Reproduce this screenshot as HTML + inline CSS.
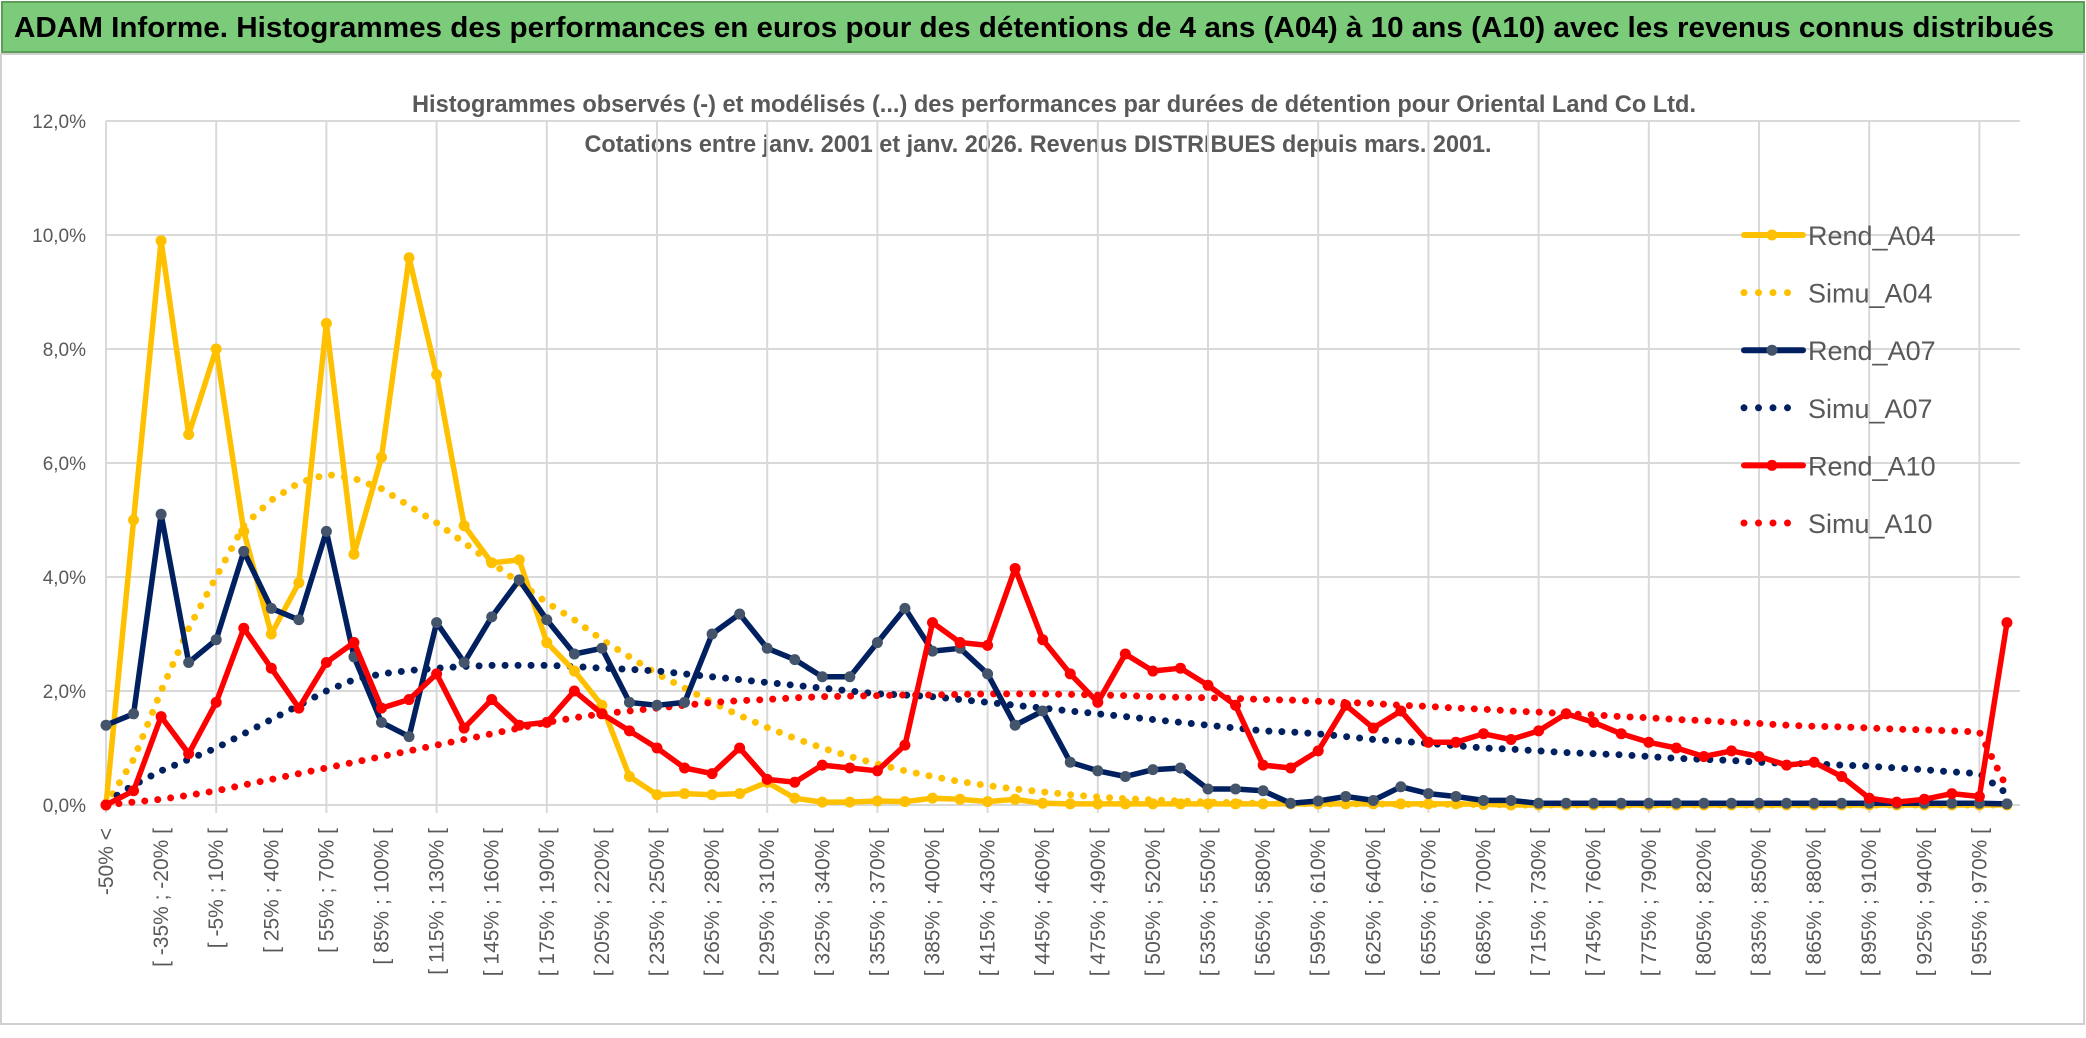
<!DOCTYPE html>
<html><head><meta charset="utf-8"><style>
body{margin:0;width:2086px;height:1033px;overflow:hidden;background:#fff;font-family:"Liberation Sans",sans-serif}
</style></head><body>
<svg id="chart" width="2086" height="1033" xmlns="http://www.w3.org/2000/svg">
<rect x="1" y="54" width="2083" height="970" fill="#fff" stroke="#d0d0d0" stroke-width="2"/>
<rect x="2" y="2" width="2082" height="50" fill="#7ccb7a" stroke="#5a9e58" stroke-width="2"/>
<text x="14" y="37" font-size="29" font-weight="bold" fill="#000" textLength="2040" lengthAdjust="spacingAndGlyphs">ADAM Informe. Histogrammes des performances en euros pour des détentions de 4 ans (A04) à 10 ans (A10) avec les revenus connus distribués</text>
<text x="1054" y="112" font-size="24" font-weight="bold" fill="#595959" text-anchor="middle" textLength="1284" lengthAdjust="spacingAndGlyphs">Histogrammes observés (-) et modélisés (...) des performances par durées de détention pour Oriental Land Co Ltd.</text>
<text x="1038" y="152" font-size="24" font-weight="bold" fill="#595959" text-anchor="middle" textLength="907" lengthAdjust="spacingAndGlyphs">Cotations entre janv. 2001 et janv. 2026. Revenus DISTRIBUES depuis mars. 2001.</text>
<g id="grid"></g><g id="axes"></g><g id="series"></g><g id="legend"></g>
</svg>
<script>
const categories=[];
categories.push("-50% <");
for(let b=-50;b<985;b+=15){categories.push("[ "+b+"% ; "+(b+15)+"% [");}
const yTicks=[0,2,4,6,8,10,12];
const rendA04=[0,5.0,9.9,6.5,8.0,4.8,3.0,3.9,8.45,4.4,6.1,9.6,7.55,4.9,4.25,4.3,2.85,2.35,1.75,0.5,0.18,0.2,0.18,0.2,0.4,0.12,0.05,0.05,0.07,0.06,0.12,0.1,0.06,0.1,0.03,0.02,0.02,0.02,0.02,0.02,0.02,0.02,0.02,0.02,0.02,0.02,0.02,0.02,0.02,0.02,0.01,0,0,0,0,0,0,0,0,0,0,0,0,0,0,0,0,0,0,0];
const simuA04=[0,0.8,2.0,3.1,4.0,4.9,5.35,5.65,5.8,5.73,5.55,5.25,4.95,4.6,4.25,3.9,3.55,3.25,2.9,2.6,2.3,2.05,1.8,1.57,1.36,1.17,1.0,0.85,0.72,0.6,0.5,0.41,0.34,0.28,0.23,0.18,0.14,0.11,0.09,0.07,0.05,0.04,0.03,0.03,0.02,0.02,0.02,0.01,0.01,0.01,0.01,0,0,0,0,0,0,0,0,0,0,0,0,0,0,0,0,0,0,0];
const rendA07=[1.4,1.6,5.1,2.5,2.9,4.45,3.45,3.25,4.8,2.6,1.45,1.2,3.2,2.5,3.3,3.95,3.25,2.65,2.75,1.8,1.75,1.8,3.0,3.35,2.75,2.55,2.25,2.25,2.85,3.45,2.7,2.75,2.3,1.4,1.65,0.75,0.6,0.5,0.62,0.65,0.28,0.28,0.25,0.03,0.07,0.15,0.08,0.32,0.2,0.15,0.08,0.08,0.03,0.03,0.03,0.03,0.03,0.03,0.03,0.03,0.03,0.03,0.03,0.03,0.03,0.03,0.03,0.03,0.03,0.02];
const simuA07=[0.05,0.35,0.6,0.8,1.0,1.25,1.5,1.75,2.0,2.2,2.3,2.36,2.4,2.43,2.45,2.45,2.45,2.43,2.4,2.38,2.35,2.3,2.25,2.2,2.15,2.1,2.05,2.0,1.95,1.93,1.9,1.85,1.8,1.75,1.7,1.65,1.6,1.55,1.5,1.45,1.4,1.35,1.3,1.28,1.25,1.2,1.15,1.12,1.08,1.04,1.0,0.98,0.95,0.92,0.9,0.88,0.85,0.82,0.8,0.78,0.75,0.73,0.72,0.7,0.68,0.65,0.62,0.58,0.55,0.2];
const rendA10=[0,0.25,1.55,0.9,1.8,3.1,2.4,1.7,2.5,2.85,1.7,1.85,2.3,1.35,1.85,1.4,1.45,2.0,1.6,1.3,1.0,0.65,0.55,1.0,0.45,0.4,0.7,0.65,0.6,1.05,3.2,2.85,2.8,4.15,2.9,2.3,1.8,2.65,2.35,2.4,2.1,1.75,0.7,0.65,0.95,1.75,1.35,1.65,1.1,1.1,1.25,1.15,1.3,1.6,1.45,1.25,1.1,1.0,0.85,0.95,0.85,0.7,0.75,0.5,0.12,0.05,0.1,0.2,0.15,3.2];
const simuA10=[0,0.05,0.1,0.17,0.25,0.35,0.45,0.55,0.65,0.75,0.85,0.95,1.05,1.15,1.25,1.35,1.45,1.53,1.6,1.65,1.7,1.75,1.8,1.83,1.85,1.88,1.9,1.91,1.92,1.93,1.93,1.94,1.95,1.95,1.95,1.94,1.93,1.92,1.9,1.89,1.88,1.87,1.85,1.84,1.82,1.8,1.78,1.75,1.73,1.7,1.68,1.65,1.63,1.6,1.58,1.55,1.53,1.5,1.48,1.45,1.43,1.4,1.38,1.37,1.35,1.33,1.32,1.3,1.28,0.3];
const NS="http://www.w3.org/2000/svg";
const X0=106,DX=27.55,Y0=805,PY=57,XR=2020;
function xs(i){return X0+DX*i;}
function ys(v){return Y0-PY*v;}
function mk(tag,attrs,parent){const e=document.createElementNS(NS,tag);for(const k in attrs)e.setAttribute(k,attrs[k]);parent.appendChild(e);return e;}
const grid=document.getElementById('grid'),axes=document.getElementById('axes'),ser=document.getElementById('series'),leg=document.getElementById('legend');
yTicks.forEach(t=>{
 const l=mk('line',{x1:X0,x2:XR,y1:ys(t),y2:ys(t),stroke:'#d9d9d9','stroke-width':2},grid);
 
 
 const tx=mk('text',{x:86,y:ys(t)+7,'font-size':19,fill:'#595959','text-anchor':'end'},axes);
 tx.textContent=t.toFixed(1).replace('.',',')+'%';
 
 
});
categories.forEach((c,i)=>{
 if(i%4===0){const l=mk('line',{x1:xs(i),x2:xs(i),y1:ys(12),y2:Y0+8,stroke:'#d9d9d9','stroke-width':2},grid);
  
  }
 if(i%2===0){const tx=mk('text',{x:0,y:0,'font-size':21,fill:'#595959','text-anchor':'end',transform:'translate('+(xs(i)+7)+',828) rotate(-90)'},axes);
  tx.textContent=c;
  
  }
});
function pts(arr){return arr.map((v,i)=>xs(i).toFixed(1)+','+ys(v).toFixed(1)).join(' ');}
function dotted(arr,color,name){
 const p=mk('polyline',{points:pts(arr),fill:'none',stroke:color,'stroke-width':7,'stroke-linecap':'round','stroke-dasharray':'0 13'},ser);
 
 
}
function solid(arr,color,mcolor,name){
 const g=mk('g',{},ser);
 
 
 mk('polyline',{points:pts(arr),fill:'none',stroke:color,'stroke-width':5.5,'stroke-linejoin':'round'},g);
 arr.forEach((v,i)=>{const c=mk('circle',{cx:xs(i),cy:ys(v),r:5.5,fill:mcolor},g);
  
  });
}
dotted(simuA04,'#FFC000','simu-a04-line');
dotted(simuA07,'#002060','simu-a07-line');
dotted(simuA10,'#FF0000','simu-a10-line');
solid(rendA04,'#FFC000','#FFC000','rend-a04-line');
solid(rendA07,'#002060','#44546A','rend-a07-line');
solid(rendA10,'#FF0000','#FF0000','rend-a10-line');
const legendItems=[["Rend_A04","#FFC000","#FFC000",false],["Simu_A04","#FFC000","",true],["Rend_A07","#002060","#44546A",false],["Simu_A07","#002060","",true],["Rend_A10","#FF0000","#FF0000",false],["Simu_A10","#FF0000","",true]];
legendItems.forEach((it,k)=>{
 const y=235+57.6*k;
 const g=mk('g',{},leg);
 
 
 if(it[3]){mk('line',{x1:1744,x2:1800,y1:y,y2:y,stroke:it[1],'stroke-width':7,'stroke-linecap':'round','stroke-dasharray':'0 14.5'},g);}
 else{mk('line',{x1:1744,x2:1803,y1:y,y2:y,stroke:it[1],'stroke-width':6,'stroke-linecap':'round'},g);mk('circle',{cx:1772,cy:y,r:5.5,fill:it[2]},g);}
 const t=mk('text',{x:1808,y:y+10,'font-size':27,fill:'#595959'},g);
 t.textContent=it[0];
});
</script>
</body></html>
